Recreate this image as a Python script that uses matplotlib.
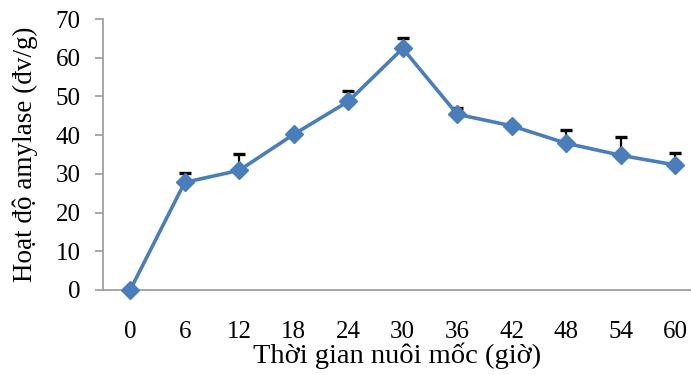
import matplotlib
matplotlib.use("Agg")
import matplotlib.pyplot as plt

hours = [0, 6, 12, 18, 24, 30, 36, 42, 48, 54, 60]
activity = [0, 27.8, 30.9, 40.2, 48.7, 62.4, 45.4, 42.4, 37.9, 34.8, 32.3]
err_upper = [0, 2.5, 4.3, 0.5, 2.7, 2.6, 1.5, 0.5, 3.4, 4.8, 3.2]
yticks = [0, 10, 20, 30, 40, 50, 60, 70]

plt.rcParams['font.family'] = ['Liberation Serif', 'DejaVu Serif']

fig = plt.figure(figsize=(6.91, 3.75), dpi=100)
ax = fig.add_axes([0.149, 0.2267, 0.851, 0.7226])

pos = list(range(len(hours)))
ax.errorbar(pos, activity, yerr=[[0] * len(err_upper), err_upper],
            fmt='none', ecolor='black', elinewidth=1.6, capsize=4.5, capthick=2.4, zorder=2)
ax.plot(pos, activity, color='#4A7EBB', lw=2.6, marker='D', markersize=9,
        markerfacecolor='#4A7EBB', markeredgecolor='#4A7EBB', zorder=3, clip_on=False)

ax.set_xlim(-0.5, 10.29)
ax.set_ylim(0, 70)
ax.set_yticks(yticks)
ax.set_xticks(pos)
ax.set_xticklabels([str(h) for h in hours])

for side in ['top', 'right']:
    ax.spines[side].set_visible(False)
for side in ['left', 'bottom']:
    ax.spines[side].set_color('#A0A0A0')
    ax.spines[side].set_linewidth(1.3)

ax.tick_params(axis='y', length=6, color='#A0A0A0', width=1.3, labelsize=18, pad=10)
ax.tick_params(axis='x', length=0, labelsize=18, pad=22)

ax.set_xlabel('Thời gian nuôi mốc (giờ)', fontsize=20.5, labelpad=0)
ax.set_ylabel('Hoạt độ amylase (đv/g)', fontsize=19.5, labelpad=13)

fig.savefig('out.png', dpi=100)
